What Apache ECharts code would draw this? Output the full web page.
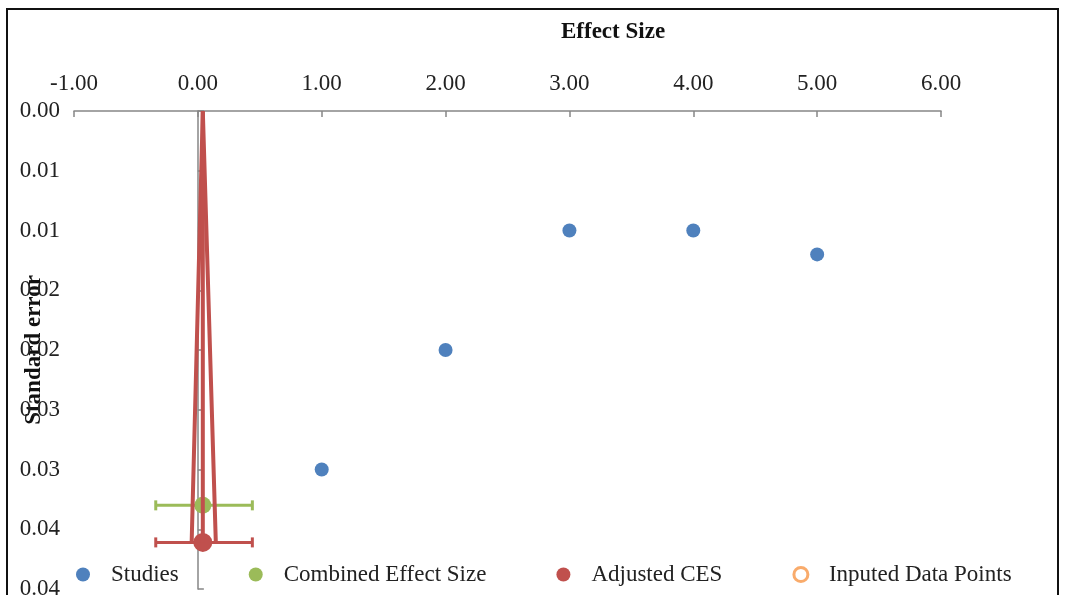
<!DOCTYPE html>
<html>
<head>
<meta charset="utf-8">
<script src="https://cdn.jsdelivr.net/npm/echarts@6/dist/echarts.min.js"></script>
<style>
  html, body { margin: 0; padding: 0; background: #fff; }
  #main { width: 1065px; height: 595px; }
</style>
</head>
<body>
<div id="main"></div>
<script>
// studies (effect size vs standard error)
var studyEffect = [1.0, 2.0, 3.0, 4.0, 5.0];
var studySE = [0.030, 0.020, 0.010, 0.010, 0.012];

// combined effect size and its interval
var cesPoint = [0.04, 0.033];
var cesCI = [-0.34, 0.44];

// adjusted CES and its interval
var adjPoint = [0.04, 0.0361];
var adjCI = [-0.34, 0.44];

// funnel: apex and the two ends at the bottom
var funnelApex = [0.04, 0];
var funnelLeft = [-0.05, 0.0361];
var funnelRight = [0.145, 0.0361];

var xTicks = [-1, 6, 1];          // min, max, interval
var yTicks = [0, 0.04, 0.005];

var serif = 'Liberation Serif';
var blue = '#4f81bd', green = '#9bbb59', red = '#c0504d', orange = '#f79646';

var dom = document.getElementById('main');
var myChart = echarts.init(dom);

function errorBar(lo, hi, y, color) {
    return {
        type: 'custom',
        name: 'bar',
        data: [[lo, hi, y]],
        encode: { x: [0, 1], y: 2 },
        silent: true,
        renderItem: function (params, api) {
            var a = api.coord([api.value(0), api.value(2)]);
            var b = api.coord([api.value(1), api.value(2)]);
            var style = { stroke: color, lineWidth: 3 };
            return {
                type: 'group',
                children: [
                    { type: 'line', shape: { x1: a[0], y1: a[1], x2: b[0], y2: b[1] }, style: style },
                    { type: 'line', shape: { x1: a[0], y1: a[1] - 5, x2: a[0], y2: a[1] + 5 }, style: style },
                    { type: 'line', shape: { x1: b[0], y1: b[1] - 5, x2: b[0], y2: b[1] + 5 }, style: style }
                ]
            };
        }
    };
}

var option = {
    animation: false,
    backgroundColor: '#fff',
    title: {
        text: 'Effect Size',
        left: 556,
        top: 16,
        textStyle: { fontFamily: serif, fontSize: 23, fontWeight: 'bold', color: '#111' }
    },
    graphic: [{
        type: 'rect',
        shape: { x: 7, y: 9, width: 1051, height: 600 },
        style: { fill: 'none', stroke: '#111', lineWidth: 2 },
        silent: true
    }],
    legend: {
        data: [
            { name: 'Studies', icon: 'circle' },
            { name: 'Combined Effect Size', icon: 'circle' },
            { name: 'Adjusted CES', icon: 'circle' },
            { name: 'Inputed Data Points', icon: 'circle', itemStyle: { color: '#fff', borderColor: orange, borderWidth: 3 } }
        ],
        left: 71,
        top: 558,
        itemWidth: 14,
        itemHeight: 14,
        itemGap: 70,
        textStyle: { fontFamily: serif, fontSize: 23, color: '#222', padding: [0, 0, 0, 16] }
    },
    grid: { left: 74, right: 124, top: 111, bottom: 6, outerBoundsMode: 'none', containLabel: false },
    xAxis: {
        type: 'value',
        position: 'top',
        min: xTicks[0],
        max: xTicks[1],
        interval: xTicks[2],
        axisLine: { onZero: false, lineStyle: { color: '#868686', width: 1.5 } },
        axisTick: { inside: true, length: 6, lineStyle: { color: '#868686', width: 1.5 } },
        axisLabel: {
            margin: 16,
            fontFamily: serif, fontSize: 23, color: '#222',
            formatter: function (v) { return v.toFixed(2); }
        },
        splitLine: { show: false }
    },
    yAxis: {
        type: 'value',
        inverse: true,
        min: yTicks[0],
        max: yTicks[1],
        interval: yTicks[2],
        name: 'Standard error',
        nameLocation: 'middle',
        nameGap: 28,
        nameMoveOverlap: false,
        nameTextStyle: { fontFamily: serif, fontSize: 23, fontWeight: 'bold', color: '#111' },
        axisLine: { onZero: true, lineStyle: { color: '#868686', width: 1.5 } },
        axisTick: { inside: true, length: 6, lineStyle: { color: '#868686', width: 1.5 } },
        axisLabel: {
            margin: 14,
            fontFamily: serif, fontSize: 23, color: '#222',
            formatter: function (v) { return (Math.round(v * 100 + 1e-6) / 100).toFixed(2); }
        },
        splitLine: { show: false }
    },
    series: [
        errorBar(cesCI[0], cesCI[1], cesPoint[1], green),
        {
            type: 'line',
            name: 'funnel',
            data: [funnelLeft, funnelApex, funnelRight],
            symbol: 'none',
            lineStyle: { color: red, width: 4 },
            silent: true
        },
        {
            type: 'line',
            name: 'funnelMid',
            data: [funnelApex, [funnelApex[0], funnelLeft[1]]],
            symbol: 'none',
            lineStyle: { color: red, width: 4 },
            silent: true
        },
        errorBar(adjCI[0], adjCI[1], adjPoint[1], red),
        {
            type: 'scatter',
            name: 'Studies',
            data: studyEffect.map(function (x, i) { return [x, studySE[i]]; }),
            symbolSize: 14,
            itemStyle: { color: blue, opacity: 1 }
        },
        {
            type: 'scatter',
            name: 'Combined Effect Size',
            data: [cesPoint],
            symbolSize: 17,
            itemStyle: { color: green, opacity: 1 }
        },
        {
            type: 'scatter',
            name: 'Adjusted CES',
            data: [adjPoint],
            symbolSize: 19,
            itemStyle: { color: red, opacity: 1 }
        },
        {
            type: 'scatter',
            name: 'Inputed Data Points',
            data: [],
            symbolSize: 12,
            itemStyle: { color: '#fff', borderColor: orange, borderWidth: 3 }
        }
    ]
};

myChart.setOption(option);
</script>
</body>
</html>
